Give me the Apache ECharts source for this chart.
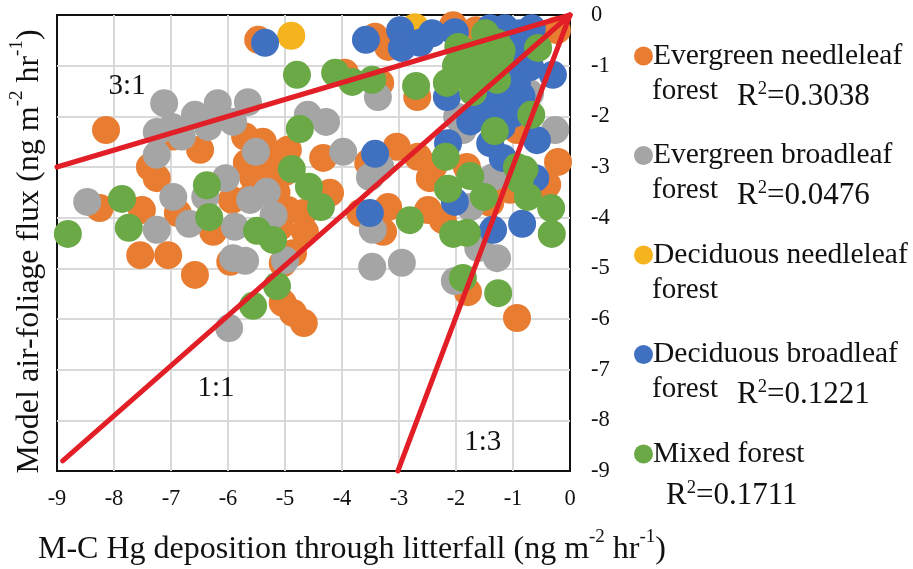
<!DOCTYPE html>
<html><head><meta charset="utf-8">
<style>html,body{margin:0;padding:0;background:#fff}#c{width:913px;height:569px}</style>
<script src="https://cdn.jsdelivr.net/npm/echarts@6/dist/echarts.min.js"></script>
</head><body><div id="c"></div>
<script>
var evergreenNeedleleaf=[[-5.47,-0.49],[-8.14,-2.27],[-6.49,-2.66],[-6.96,-2.4],[-7.37,-3.0],[-7.25,-3.22],[-8.25,-3.81],[-7.51,-3.85],[-6.88,-3.91],[-6.26,-4.28],[-7.54,-4.74],[-7.05,-4.74],[-6.58,-5.13],[-5.96,-4.87],[-5.04,-4.9],[-5.04,-5.68],[-4.86,-5.88],[-4.67,-6.08],[-5.7,-2.4],[-5.39,-2.5],[-4.95,-2.66],[-4.33,-2.82],[-5.67,-2.92],[-5.32,-3.0],[-5.56,-3.2],[-5.2,-2.75],[-5.0,-3.1],[-5.6,-3.6],[-5.15,-3.5],[-5.93,-3.65],[-4.95,-3.85],[-4.68,-3.91],[-4.65,-4.28],[-4.21,-3.51],[-4.86,-4.7],[-5.09,-4.18],[-3.42,-0.43],[-3.19,-0.63],[-2.05,-0.2],[-1.65,-0.3],[-0.23,-0.3],[-2.68,-1.62],[-3.95,-1.14],[-3.33,-1.34],[-3.04,-2.6],[-3.54,-2.92],[-2.67,-2.8],[-2.46,-3.22],[-2.4,-3.0],[-1.81,-3.0],[-3.19,-3.79],[-3.68,-3.91],[-3.28,-4.28],[-2.49,-3.85],[-2.23,-4.05],[-1.4,-3.71],[-0.21,-2.9],[-0.4,-3.35],[-0.93,-2.27],[-1.05,-3.45],[-1.79,-5.47],[-0.93,-5.98]];
var evergreenBroadleaf=[[-7.12,-1.74],[-7.25,-2.31],[-6.98,-2.21],[-6.58,-1.97],[-6.35,-2.21],[-6.18,-1.74],[-5.65,-1.72],[-5.91,-2.11],[-6.81,-2.4],[-7.25,-2.76],[-5.51,-2.7],[-4.6,-1.97],[-4.28,-2.11],[-8.47,-3.69],[-6.04,-3.22],[-6.96,-3.59],[-6.4,-3.59],[-5.61,-3.65],[-5.32,-3.49],[-5.2,-3.95],[-6.68,-4.12],[-7.25,-4.24],[-5.88,-4.18],[-3.98,-2.7],[-5.91,-4.8],[-5.7,-4.85],[-5,-4.84],[-5.98,-6.18],[-3.37,-1.62],[-3.51,-3.2],[-3.46,-4.24],[-1.98,-2.01],[-1.88,-2.27],[-0.7,-1.55],[-0.26,-2.27],[-1.35,-3.2],[-1.75,-3.79],[-1.58,-4.44],[-1.28,-4.8],[-1.61,-4.6],[-3.47,-4.97],[-2.95,-4.89],[-2.02,-5.25],[-3.33,-3.0]];
var deciduousNeedleleaf=[[-4.89,-0.41],[-2.72,-0.24]];
var deciduousBroadleaf=[[-5.35,-0.55],[-3.58,-0.49],[-2.98,-0.3],[-2.95,-0.65],[-2.42,-0.36],[-2.63,-0.55],[-2.02,-0.34],[-1.4,-0.26],[-1.14,-0.26],[-0.67,-0.26],[-0.75,-0.7],[-0.3,-1.18],[-0.7,-1.03],[-2.16,-1.62],[-1.53,-1.87],[-1.11,-1.87],[-1.02,-1.54],[-1.28,-2.13],[-1.05,-1.22],[-1.4,-2.53],[-2.14,-2.53],[-3.42,-2.74],[-0.58,-2.47],[-1.18,-2.82],[-0.61,-3.22],[-2.02,-3.69],[-3.51,-3.91],[-1.35,-4.24],[-0.84,-4.12],[-0.93,-1.34],[-0.88,-0.36],[-1.0,-0.9],[-0.85,-1.6],[-1.3,-1.6],[-1.75,-2.1],[-1.6,-2.0],[-1.0,-1.95],[-1.2,-2.2]];
var mixedForest=[[-4.79,-1.18],[-4.12,-1.14],[-4.74,-2.25],[-4.88,-3.04],[-4.58,-3.39],[-4.37,-3.79],[-6.37,-3.36],[-6.33,-3.99],[-7.86,-3.63],[-7.74,-4.2],[-8.81,-4.32],[-5.49,-4.26],[-5.21,-4.44],[-5.14,-5.35],[-5.56,-5.74],[-3.82,-1.32],[-3.47,-1.28],[-2.7,-1.4],[-2.16,-1.34],[-1.7,-1.52],[-1.28,-1.28],[-1.96,-0.63],[-1.49,-0.36],[-1.28,-0.55],[-1.63,-0.83],[-1.88,-1.03],[-1.46,-0.95],[-1.23,-0.83],[-1.75,-1.28],[-1.7,-0.75],[-2.0,-1.0],[-1.6,-1.1],[-1.4,-0.65],[-1.2,-0.7],[-0.56,-0.65],[-0.68,-1.97],[-1.32,-2.29],[-2.18,-2.8],[-1.75,-3.18],[-2.14,-3.43],[-1.51,-3.59],[-0.93,-3.0],[-0.8,-3.05],[-0.88,-3.26],[-0.74,-3.59],[-0.33,-3.81],[-0.32,-4.32],[-2.81,-4.05],[-2.05,-4.32],[-1.81,-4.3],[-1.88,-5.19],[-1.26,-5.49]];
var line3to1=[[0,0],[-9,-3]];
var line1to1=[[0,0],[-8.9,-8.8]];
var line1to3=[[0,0],[-3.02,-9]];
var ratioLabels=[{name:'3:1',value:[-7.77,-1.4]},{name:'1:1',value:[-6.21,-7.36]},{name:'1:3',value:[-1.53,-8.43]}];
var serif='"Liberation Serif"';

function scatter(name,data,color){
  return {name:name,type:'scatter',data:data,symbolSize:28,clip:false,itemStyle:{color:color,opacity:1},emphasis:{disabled:true}};
}
function ratioLine(data){
  return {type:'line',data:data,showSymbol:false,symbol:'none',clip:false,silent:true,lineStyle:{color:'#E21E26',width:5,cap:'round'},z:5};
}
function supText(x,y,parts,size){
  return {type:'text',left:x,top:y,z:10,style:{text:parts,rich:{
    a:{fontFamily:serif,fontSize:size,fill:'#111',lineHeight:36,verticalAlign:'bottom'},
    s:{fontFamily:serif,fontSize:size*0.6,fill:'#111',lineHeight:36,verticalAlign:'top',padding:[4,0,0,0]}
  }}};
}
var sup={
  a:{fontFamily:serif,fontSize:32,color:'#111',lineHeight:38,verticalAlign:'bottom'},
  s:{fontFamily:serif,fontSize:19,color:'#111',lineHeight:38,verticalAlign:'top'}
};
var chart=echarts.init(document.getElementById('c'),null,{renderer:'canvas'});
chart.setOption({
  animation:false,
  backgroundColor:'#fff',
  grid:{left:57,right:343,top:15,height:456,show:true,borderColor:'#111',borderWidth:2,containLabel:false,outerBoundsMode:'none'},
  xAxis:{type:'value',min:-9,max:0,interval:1,position:'bottom',
    axisLine:{show:false},axisTick:{show:false},
    axisLabel:{fontFamily:serif,fontSize:22.5,color:'#111',margin:17},
    splitLine:{show:true,showMinLine:false,showMaxLine:false,lineStyle:{color:'#d9d9d9',width:2}},
    name:'{a|M-C Hg deposition through litterfall (ng m}{s|-2}{a| hr}{s|-1}{a|)}',
    nameLocation:'middle',nameGap:57,nameTextStyle:{padding:[0,0,0,77],rich:sup}},
  yAxis:{type:'value',min:-9,max:0,interval:1,position:'right',
    axisLine:{show:false},axisTick:{show:false},
    axisLabel:{fontFamily:serif,fontSize:22.5,color:'#111',margin:21,align:'left'},
    splitLine:{show:true,showMinLine:false,showMaxLine:false,lineStyle:{color:'#d9d9d9',width:2}},
    name:'{a|Model air-foliage flux (ng m}{s|-2}{a| hr}{s|-1}{a|)}',
    nameLocation:'middle',nameRotate:90,nameGap:-562,nameTextStyle:{padding:[0,17,0,0],rich:sup}},
  legend:{orient:'vertical',left:629,top:34,itemWidth:19,itemHeight:19,itemGap:65.5,icon:'circle',selectedMode:false,
    data:['Evergreen needleleaf','Evergreen broadleaf','Deciduous needleleaf','Deciduous broadleaf','Mixed forest'],
    itemStyle:{opacity:1},
    textStyle:{fontFamily:serif,fontSize:29.5,color:'#111',lineHeight:34,padding:[0,0,0,-5]}},
  series:[
    scatter('Evergreen needleleaf',evergreenNeedleleaf,'#E87D32'),
    scatter('Evergreen broadleaf',evergreenBroadleaf,'#A5A5A5'),
    scatter('Deciduous needleleaf',deciduousNeedleleaf,'#F5B41E'),
    scatter('Deciduous broadleaf',deciduousBroadleaf,'#4070C0'),
    scatter('Mixed forest',mixedForest,'#6AA946'),
    ratioLine(line3to1),ratioLine(line1to1),ratioLine(line1to3),
    {type:'scatter',data:ratioLabels,symbolSize:0,silent:true,z:6,
     itemStyle:{opacity:1},
     label:{show:true,position:'inside',formatter:'{b}',fontFamily:serif,fontSize:29,color:'#111',opacity:1}}
  ],
  graphic:[
    supText(652,77,'{a|forest}',29),
    supText(737,76,'{a|R}{s|2}{a|=0.3038}',31),
    supText(652,176,'{a|forest}',29),
    supText(737,175,'{a|R}{s|2}{a|=0.0476}',31),
    supText(652,276,'{a|forest}',29),
    supText(652,375,'{a|forest}',29),
    supText(737,374,'{a|R}{s|2}{a|=0.1221}',31),
    supText(666,475,'{a|R}{s|2}{a|=0.1711}',31)
  ]
});
</script></body></html>
